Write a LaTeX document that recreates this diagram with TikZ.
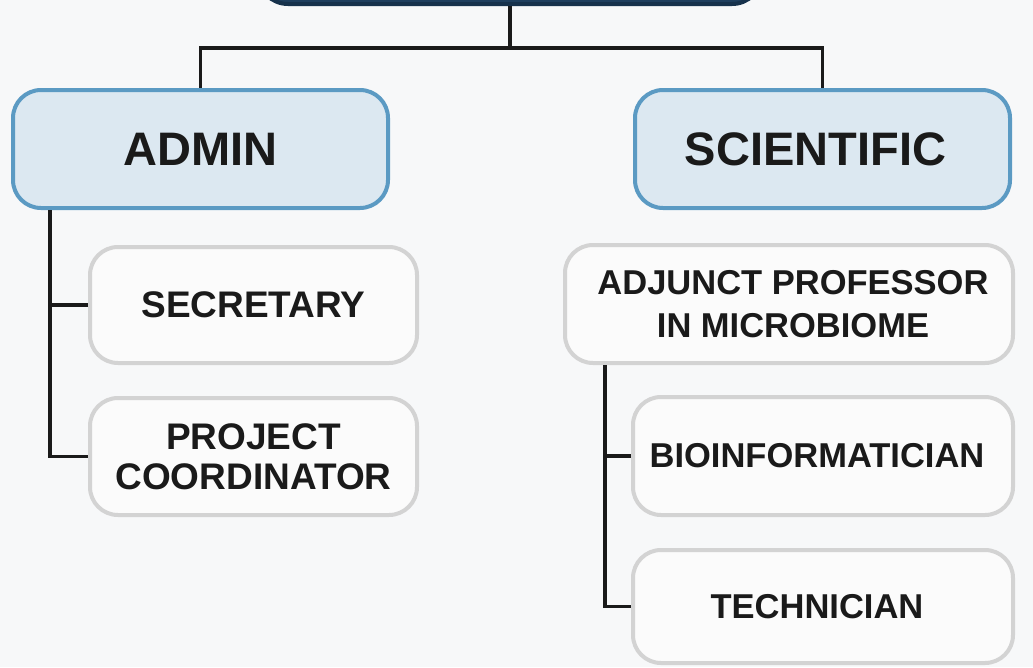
\documentclass[tikz,border=0pt]{standalone}
\usepackage{fontspec}
\setmainfont{Liberation Sans}
\usetikzlibrary{positioning}
\definecolor{bgcol}{HTML}{F7F8F9}
\definecolor{navy}{HTML}{1F3F5E}
\definecolor{navyline}{HTML}{17324C}
\definecolor{catfill}{HTML}{DCE8F1}
\definecolor{catline}{HTML}{5B9AC3}
\definecolor{rolefill}{HTML}{FBFBFB}
\definecolor{roleline}{HTML}{D3D3D3}
\definecolor{ink}{HTML}{1A1A1A}
\tikzset{
  topbox/.style={draw=navyline, fill=navy, line width=4pt, rounded corners=30pt,
    minimum width=504pt, minimum height=80pt, inner sep=0pt},
  catbox/.style={draw=catline, fill=catfill, line width=4pt, rounded corners=28pt,
    minimum width=375pt, minimum height=118pt, inner sep=0pt, text=ink,
    font=\bfseries\fontsize{47}{50}\selectfont},
  rolebox/.style={draw=roleline, fill=rolefill, line width=4pt, rounded corners=28pt,
    inner sep=0pt, text=ink, align=center},
  conn/.style={draw=ink, line width=3.2pt}
}
\begin{document}
\begin{tikzpicture}[x=1pt, y=-1pt]
\useasboundingbox (0,0) rectangle (1033,667);
\fill[bgcol] (0,0) rectangle (1033,667);
\clip (0,0) rectangle (1033,667);

\node[topbox] (top) at (510,-36) {};
\node[catbox] (admin) at (200.5,149) {ADMIN};
\node[catbox] (sci) at (822.5,149) {SCIENTIFIC\kern14pt};

\node[rolebox, minimum width=327pt, minimum height=116pt,
  font=\bfseries\fontsize{37}{41}\selectfont] (sec) at (253.5,305) {SECRETARY};
\node[rolebox, minimum width=327pt, minimum height=117pt,
  font=\bfseries\fontsize{37}{40}\selectfont] (proj) at (253.5,456.5) {PROJECT\\COORDINATOR};

\node[rolebox, minimum width=448pt, minimum height=118pt,
  font=\bfseries\fontsize{34.5}{43}\selectfont] (adj) at (789,304) {\kern8pt ADJUNCT PROFESSOR\\\kern8pt IN MICROBIOME};
\node[rolebox, minimum width=380pt, minimum height=118pt,
  font=\bfseries\fontsize{34.5}{40}\selectfont] (bio) at (823,456) {BIOINFORMATICIAN\kern12pt};
\node[rolebox, minimum width=380pt, minimum height=113pt,
  font=\bfseries\fontsize{34.5}{40}\selectfont] (tech) at (823,606.5) {TECHNICIAN\kern12pt};

\coordinate (bus) at (0,48);
\coordinate (lx) at (50,0);
\coordinate (rx) at (605,0);

\draw[conn] (top.south) -- (top.south |- bus) -| (admin.north);
\draw[conn] (top.south |- bus) -| (sci.north);

\draw[conn] (admin.south -| lx) |- (proj.west);
\draw[conn] (sec.west) -- (sec.west -| lx);

\draw[conn] (adj.south -| rx) |- (tech.west);
\draw[conn] (bio.west) -- (bio.west -| rx);
\end{tikzpicture}
\end{document}
